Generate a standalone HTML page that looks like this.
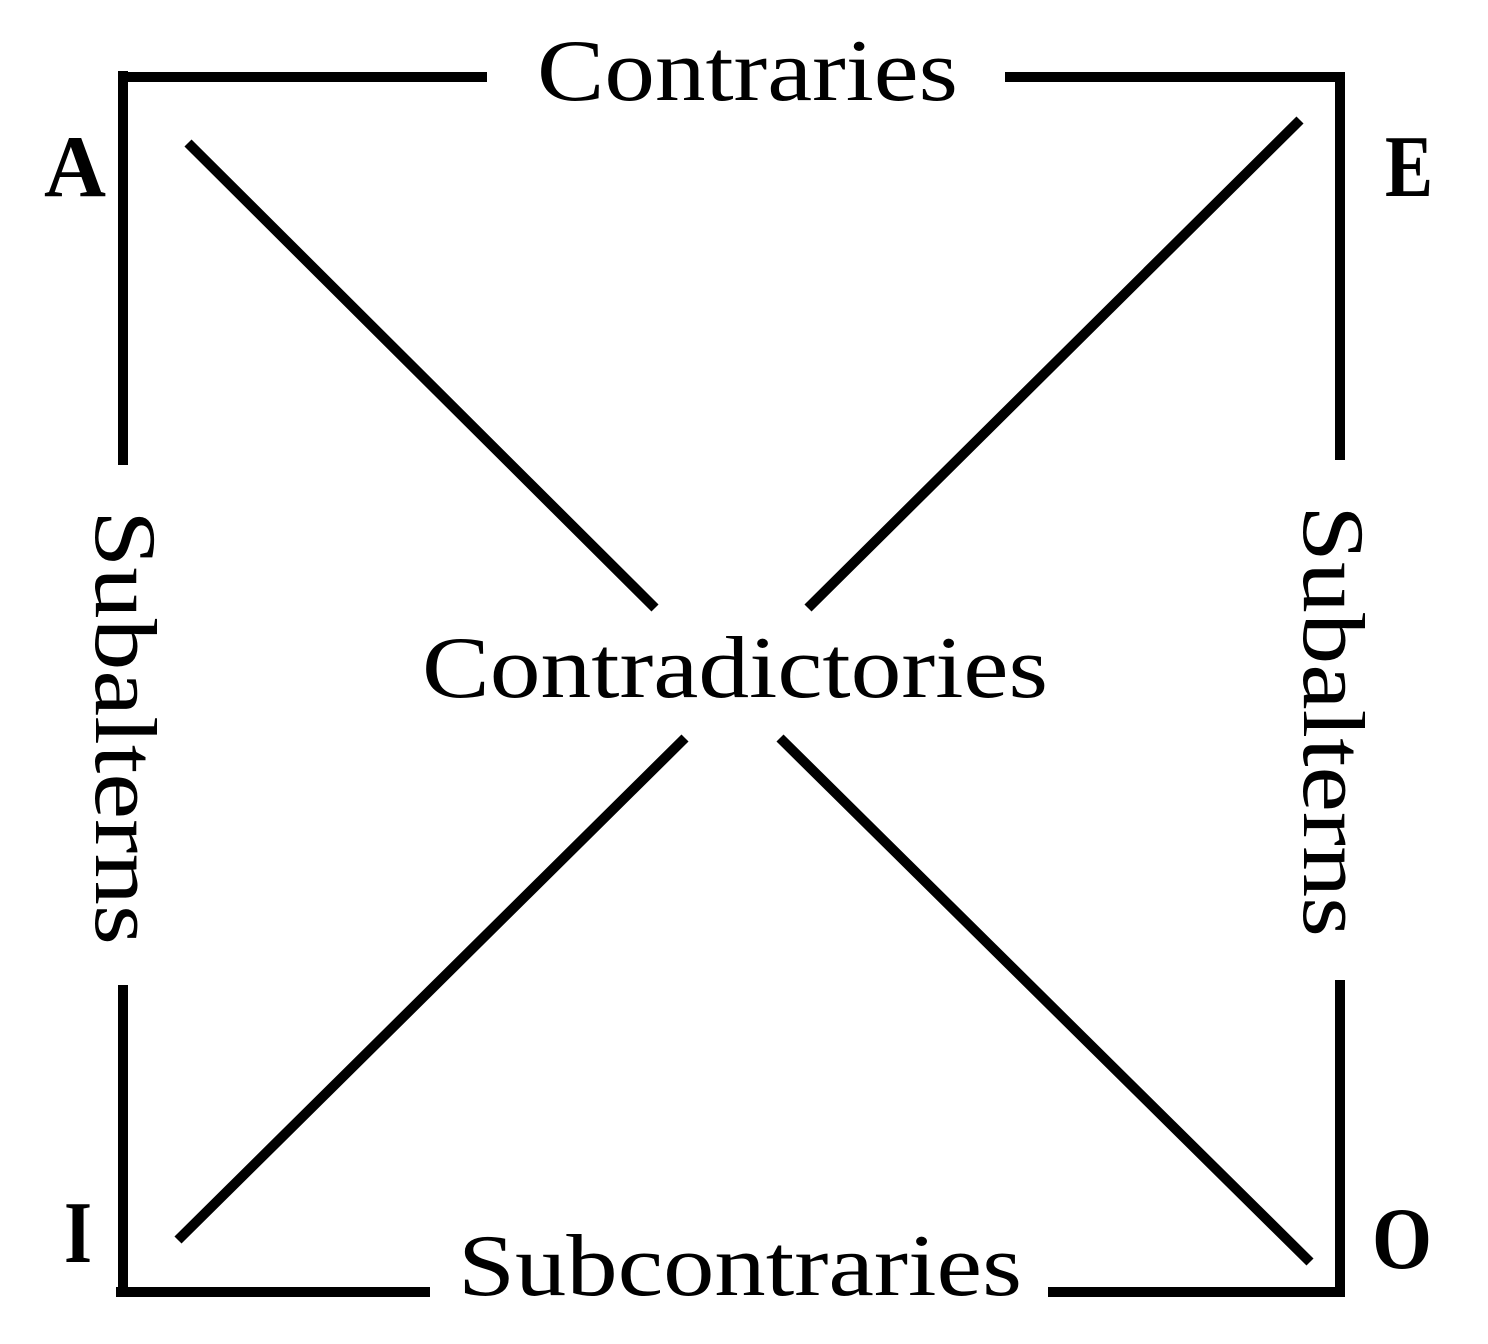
<!DOCTYPE html>
<html><head><meta charset="utf-8"><style>html,body{margin:0;padding:0;background:#fff}svg{display:block}</style></head>
<body>
<svg width="1488" height="1344" viewBox="0 0 1488 1344" xmlns="http://www.w3.org/2000/svg">
<g stroke="#000" stroke-width="10" fill="none" stroke-linecap="butt">
<path d="M123 71 V465 M118 77 H487 M1005 77 H1345 M1340 72 V460"/>
<path d="M123 985 V1297 M116 1292 H430 M1048 1292 H1345 M1340 980 V1297"/>
<path d="M188 143 L655 608 M1300 120 L808 608 M178 1240 L685 738 M1310 1262 L780 738"/>
</g>
<g font-family="Liberation Serif, serif" fill="#000">
<text x="537" y="100" font-size="88" textLength="421" lengthAdjust="spacingAndGlyphs">Contraries</text>
<text x="422" y="697" font-size="88" textLength="626" lengthAdjust="spacingAndGlyphs">Contradictories</text>
<text x="458" y="1295" font-size="88" textLength="564" lengthAdjust="spacingAndGlyphs">Subcontraries</text>
<text transform="translate(96,510) rotate(90)" font-size="88" textLength="435" lengthAdjust="spacingAndGlyphs">Subalterns</text>
<text transform="translate(1304,505) rotate(90)" font-size="88" textLength="432" lengthAdjust="spacingAndGlyphs">Subalterns</text>
<g font-weight="bold" font-size="88">
<text x="44" y="196" textLength="62" lengthAdjust="spacingAndGlyphs">A</text>
<text x="1385" y="196" textLength="48" lengthAdjust="spacingAndGlyphs">E</text>
<text x="64" y="1262" textLength="28" lengthAdjust="spacingAndGlyphs">I</text>
<text x="1372" y="1268" textLength="60" lengthAdjust="spacingAndGlyphs">O</text>
</g>
</g>
</svg>
</body></html>
